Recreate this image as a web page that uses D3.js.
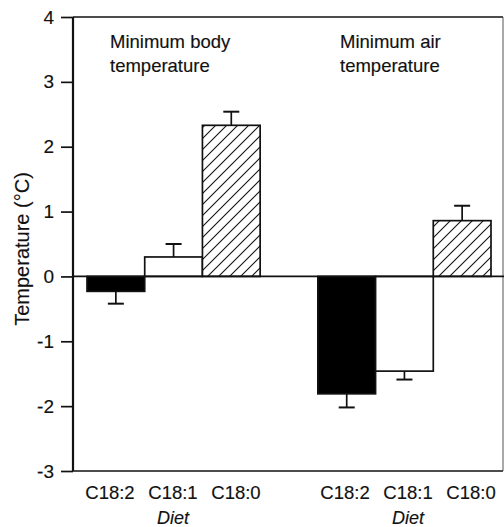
<!DOCTYPE html>
<html>
<head>
<meta charset="utf-8">
<script src="https://cdn.jsdelivr.net/npm/d3@7/dist/d3.min.js"></script>
<style>
  html, body { margin: 0; padding: 0; background: #fff; }
  svg { display: block; }
  text { font-family: "Liberation Sans", Arial, Helvetica, sans-serif; fill: #111; stroke: #111; stroke-width: 0.15px; }
</style>
</head>
<body>
<svg id="chart" width="504" height="527"></svg>
<script>
// ---- data ----
const groups = ["body", "air"];
const groupLabels = [["Minimum body", "temperature"], ["Minimum air", "temperature"]];
const diets = ["C18:2", "C18:1", "C18:0"];
const bodyValues = [-0.23, 0.30, 2.33];
const bodyErrors = [0.19, 0.20, 0.21];
const airValues = [-1.81, -1.46, 0.86];
const airErrors = [0.21, 0.13, 0.23];
const yTicks = [4, 3, 2, 1, 0, -1, -2, -3];
const xTitle = "Diet";
const yTitle = "Temperature (°C)";

const seriesByGroup = { body: { v: bodyValues, e: bodyErrors }, air: { v: airValues, e: airErrors } };
const rows = [];
groups.forEach(g => diets.forEach((d, i) => rows.push({ group: g, diet: d, value: seriesByGroup[g].v[i], err: seriesByGroup[g].e[i] })));

// ---- layout ----
const svg = d3.select("#chart");
const axisX = 73, frameRight = 503, plotTop = 17, plotBottom = 471;

const y = d3.scaleLinear().domain([-3, 4]).range([plotBottom, plotTop]);
const x0 = d3.scaleBand().domain(groups).range([87, 491]).paddingInner(0.25).paddingOuter(0);
const x1 = d3.scaleBand().domain(diets).range([0, x0.bandwidth()]).padding(0);
// label scales (labels are spaced a little wider than the bars)
const lx0 = d3.scaleBand().domain(groups).range([78.5, 502.5]).paddingInner(0.196).paddingOuter(0);
const lx1 = d3.scaleBand().domain(diets).range([0, lx0.bandwidth()]).padding(0);

// hatch pattern
const hs = 11;
const defs = svg.append("defs");
const pat = defs.append("pattern").attr("id", "hatch").attr("patternUnits", "userSpaceOnUse")
  .attr("width", hs).attr("height", hs);
pat.append("rect").attr("width", hs).attr("height", hs).attr("fill", "#fff");
pat.append("path").attr("d", `M-1,${hs + 1} L${hs + 1},-1 M-1,1 L1,-1 M${hs - 1},${hs + 1} L${hs + 1},${hs - 1}`)
  .attr("stroke", "#111").attr("stroke-width", 1.1);

const fills = { "C18:2": "#000", "C18:1": "#fff", "C18:0": "url(#hatch)" };

// frame
svg.append("line").attr("x1", axisX).attr("x2", frameRight).attr("y1", y(4)).attr("y2", y(4))
  .attr("stroke", "#111").attr("stroke-width", 1.6);
svg.append("line").attr("x1", axisX).attr("x2", frameRight).attr("y1", y(-3)).attr("y2", y(-3))
  .attr("stroke", "#111").attr("stroke-width", 1.6);
svg.append("line").attr("x1", frameRight).attr("x2", frameRight).attr("y1", y(4)).attr("y2", y(-3))
  .attr("stroke", "#555").attr("stroke-width", 1);

// bars
const g = svg.append("g");
g.selectAll("rect.bar").data(rows).join("rect").attr("class", "bar")
  .attr("x", d => x0(d.group) + x1(d.diet))
  .attr("width", x1.bandwidth())
  .attr("y", d => y(Math.max(0, d.value)))
  .attr("height", d => Math.abs(y(d.value) - y(0)))
  .attr("fill", d => fills[d.diet])
  .attr("stroke", "#111").attr("stroke-width", 1.7);

// error bars (one-sided, away from zero)
const cap = 8;
const eg = g.selectAll("g.err").data(rows).join("g").attr("class", "err");
eg.append("line")
  .attr("x1", d => x0(d.group) + x1(d.diet) + x1.bandwidth() / 2)
  .attr("x2", d => x0(d.group) + x1(d.diet) + x1.bandwidth() / 2)
  .attr("y1", d => y(d.value))
  .attr("y2", d => y(d.value + Math.sign(d.value) * d.err))
  .attr("stroke", "#111").attr("stroke-width", 1.7);
eg.append("line")
  .attr("x1", d => x0(d.group) + x1(d.diet) + x1.bandwidth() / 2 - cap)
  .attr("x2", d => x0(d.group) + x1(d.diet) + x1.bandwidth() / 2 + cap)
  .attr("y1", d => y(d.value + Math.sign(d.value) * d.err))
  .attr("y2", d => y(d.value + Math.sign(d.value) * d.err))
  .attr("stroke", "#111").attr("stroke-width", 2);

// zero line
svg.append("line").attr("x1", axisX).attr("x2", frameRight + 1).attr("y1", y(0)).attr("y2", y(0))
  .attr("stroke", "#111").attr("stroke-width", 1.7);

// y axis
const yAxis = d3.axisLeft(y).tickValues(yTicks).tickSize(12).tickPadding(7).tickFormat(d => String(d));
const ya = svg.append("g").attr("transform", `translate(${axisX},0)`).call(yAxis);
ya.select(".domain").attr("stroke", "#111").attr("stroke-width", 2.2).attr("d", `M0,${y(4)}V${y(-3)}`);
ya.selectAll(".tick line").attr("stroke", "#111").attr("stroke-width", 1.7);
ya.selectAll(".tick text").style("font-size", "19px").style("font-family", "'Liberation Sans', Arial, sans-serif")
  .attr("fill", "#111").attr("stroke", "#111").attr("stroke-width", 0.15);

// y title
svg.append("text").attr("transform", `translate(29,${(y(4) + y(-3)) / 2 + 5}) rotate(-90)`)
  .attr("text-anchor", "middle").style("font-size", "20px").text(yTitle);

// x category labels
groups.forEach(gr => {
  diets.forEach(d => {
    svg.append("text").attr("x", lx0(gr) + lx1(d) + lx1.bandwidth() / 2).attr("y", 499)
      .attr("text-anchor", "middle").style("font-size", "18.5px").text(d);
  });
  svg.append("text").attr("x", lx0(gr) + lx0.bandwidth() / 2).attr("y", 524)
    .attr("text-anchor", "middle").style("font-size", "18px").style("font-style", "italic").text(xTitle);
});

// group labels
const labelX = [110, 340];
groups.forEach((gr, i) => {
  const t = svg.append("text").attr("x", labelX[i]).attr("y", 48).style("font-size", "18.5px");
  t.append("tspan").attr("x", labelX[i]).text(groupLabels[i][0]);
  t.append("tspan").attr("x", labelX[i]).attr("dy", 23.5).text(groupLabels[i][1]);
});
</script>
</body>
</html>
